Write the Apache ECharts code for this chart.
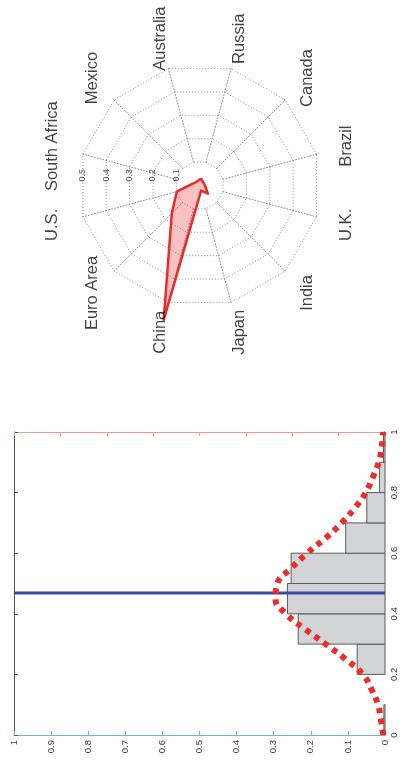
<!DOCTYPE html>
<html>
<head>
<meta charset="utf-8">
<script src="https://cdn.jsdelivr.net/npm/echarts@6/dist/echarts.min.js"></script>
<style>
html,body{margin:0;padding:0;background:#fff;}
#chart{width:400px;height:760px;}
</style>
</head>
<body>
<div id="chart"></div>
<script>
// ---- Radar data ----
const countries = ['Brazil', 'Canada', 'Russia', 'Australia', 'Mexico', 'South Africa',
                   'U.S.', 'Euro Area', 'China', 'Japan', 'India', 'U.K.'];
const shares = [0.02, 0.02, 0.028, 0.022, 0.02, 0.03, 0.098, 0.163, 0.575, 0.022, 0.048, 0.025];
const radarTicks = [0.1, 0.2, 0.3, 0.4, 0.5];

// ---- Histogram data ----
const binStarts = [0, 0.1, 0.2, 0.3, 0.4, 0.5, 0.6, 0.7, 0.8, 0.9];
const binWidth = 0.1;
const histValues = [0.003, 0, 0.075, 0.234, 0.263, 0.253, 0.106, 0.049, 0.015, 0.004];
const curveBins = [0, 0.05, 0.1, 0.15, 0.2, 0.25, 0.3, 0.35, 0.4, 0.45, 0.5,
                   0.55, 0.6, 0.65, 0.7, 0.75, 0.8, 0.85, 0.9, 0.95, 1];
const curveValues = [0.005, 0.011, 0.019, 0.036, 0.060, 0.106, 0.160, 0.216, 0.267, 0.295, 0.290,
                     0.253, 0.210, 0.160, 0.117, 0.081, 0.052, 0.033, 0.017, 0.009, 0.005];
const meanValue = 0.469;
const topTicks = 8;

const FONT = "'Liberation Sans', Arial, Helvetica, sans-serif";
const CX = 199.7, CY = 185.5, R = 121;
const RMAX = radarTicks[radarTicks.length - 1];
const gridLine = { type: [1, 2], color: '#8c8c8c', width: 1 };

const chart = echarts.init(document.getElementById('chart'), null, { renderer: 'canvas' });

const option = {
  animation: false,
  backgroundColor: '#fff',
  radar: {
    center: [CX, CY],
    radius: [R * radarTicks[0] / RMAX, R],
    startAngle: 15,
    splitNumber: radarTicks.length - 1,
    shape: 'polygon',
    indicator: countries.map(n => ({ name: n, min: radarTicks[0], max: RMAX })),
    axisName: { show: false },
    axisLine: { lineStyle: gridLine },
    splitLine: { lineStyle: gridLine },
    splitArea: { show: false },
    axisTick: { show: false },
    axisLabel: { show: false }
  },
  polar: [
    { center: [CX, CY], radius: R },
    { center: [CX, CY], radius: R * Math.cos(Math.PI / 12) }
  ],
  angleAxis: [
    { polarIndex: 0, type: 'value', min: 0, max: 360, startAngle: 0, clockwise: false, show: false },
    { polarIndex: 1, type: 'value', min: 0, max: 360, startAngle: 0, clockwise: false, show: false }
  ],
  radiusAxis: [
    { polarIndex: 0, type: 'value', min: 0, max: RMAX, show: false },
    { polarIndex: 1, type: 'value', min: 0, max: RMAX, show: false }
  ],
  grid: { left: 14, right: 15, top: 432, bottom: 25, containLabel: false },
  xAxis: [
    {
      type: 'value', min: 0, max: 1, interval: 0.1, inverse: true, position: 'bottom',
      axisLine: { onZero: false, lineStyle: { color: '#6cb2e2', width: 1 } },
      axisTick: { inside: true, length: 4, lineStyle: { color: '#6cb2e2' } },
      axisLabel: { rotate: 90, margin: 5, fontSize: 9.5, color: '#333', fontFamily: FONT },
      splitLine: { show: false }
    },
    {
      type: 'value', min: 0, max: topTicks, interval: 1, position: 'top',
      axisLine: { onZero: false, lineStyle: { color: '#f29a88', width: 1 } },
      axisTick: { inside: true, length: 4, lineStyle: { color: '#f29a88' } },
      axisLabel: { show: false },
      splitLine: { show: false }
    }
  ],
  yAxis: [
    {
      type: 'value', min: 0, max: 1, interval: 0.2, position: 'right',
      axisLine: { show: false, onZero: false },
      axisTick: { show: false },
      axisLabel: { rotate: 90, margin: 4, fontSize: 9.5, color: '#333', fontFamily: FONT },
      splitLine: { show: false }
    },
    {
      type: 'value', min: 0, max: 1, interval: 0.2, position: 'left',
      axisLine: { show: true, onZero: false, lineStyle: { color: '#555', width: 1 } },
      axisTick: { show: true, inside: true, length: 4, lineStyle: { color: '#555' } },
      axisLabel: { show: false },
      splitLine: { show: false }
    }
  ],
  series: [
    {
      type: 'radar',
      radarIndex: 0,
      symbol: 'none',
      silent: true,
      z: 3,
      lineStyle: { color: '#ec2b2b', width: 2.5 },
      areaStyle: { color: 'rgba(236,48,48,0.42)' },
      data: [{ value: shares, name: 'share' }]
    },
    {
      type: 'scatter',
      coordinateSystem: 'polar',
      polarIndex: 0,
      clip: false,
      silent: true,
      symbolSize: 1,
      itemStyle: { color: 'rgba(0,0,0,0)' },
      label: {
        show: true, position: 'inside', rotate: 90, formatter: '{b}',
        fontSize: 16.5, color: '#111', fontFamily: FONT
      },
      data: countries.map((n, i) => ({ name: n, value: [0.628, 15 + 30 * i] })),
      z: 5
    },
    {
      type: 'scatter',
      coordinateSystem: 'polar',
      polarIndex: 1,
      clip: false,
      silent: true,
      symbolSize: 1,
      itemStyle: { color: 'rgba(0,0,0,0)' },
      label: {
        show: true, position: 'inside', rotate: 90, align: 'left', verticalAlign: 'middle',
        offset: [4, 0], formatter: p => String(p.value[0]),
        fontSize: 9, color: '#222', fontFamily: FONT
      },
      data: radarTicks.map(v => [v, 180]),
      z: 5
    },
    {
      type: 'custom',
      xAxisIndex: 0, yAxisIndex: 0,
      silent: true,
      z: 2,
      encode: { x: 2, y: [0, 1] },
      data: binStarts.map((b, i) => [b, b + binWidth, histValues[i]]),
      renderItem: function (params, api) {
        const v = api.value(2);
        if (!(v > 0)) return null;
        const p0 = api.coord([0, api.value(0)]);
        const p1 = api.coord([v, api.value(1)]);
        return {
          type: 'rect',
          shape: {
            x: Math.min(p0[0], p1[0]), y: Math.min(p0[1], p1[1]),
            width: Math.abs(p1[0] - p0[0]), height: Math.abs(p1[1] - p0[1])
          },
          style: { fill: '#d3d4d6', stroke: '#5a5a5a', lineWidth: 1 }
        };
      }
    },
    {
      type: 'line',
      xAxisIndex: 0, yAxisIndex: 0,
      silent: true,
      symbol: 'none',
      z: 3,
      lineStyle: { color: '#3a48a8', width: 3 },
      data: [[0, meanValue], [1, meanValue]]
    },
    {
      type: 'line',
      xAxisIndex: 0, yAxisIndex: 0,
      silent: true,
      symbol: 'none',
      smooth: true,
      z: 4,
      lineStyle: { color: '#ee2a2a', width: 6, type: [5.5, 5.5], cap: 'butt' },
      data: curveBins.map((b, i) => [curveValues[i], b])
    }
  ]
};
chart.setOption(option);
</script>
</body>
</html>
